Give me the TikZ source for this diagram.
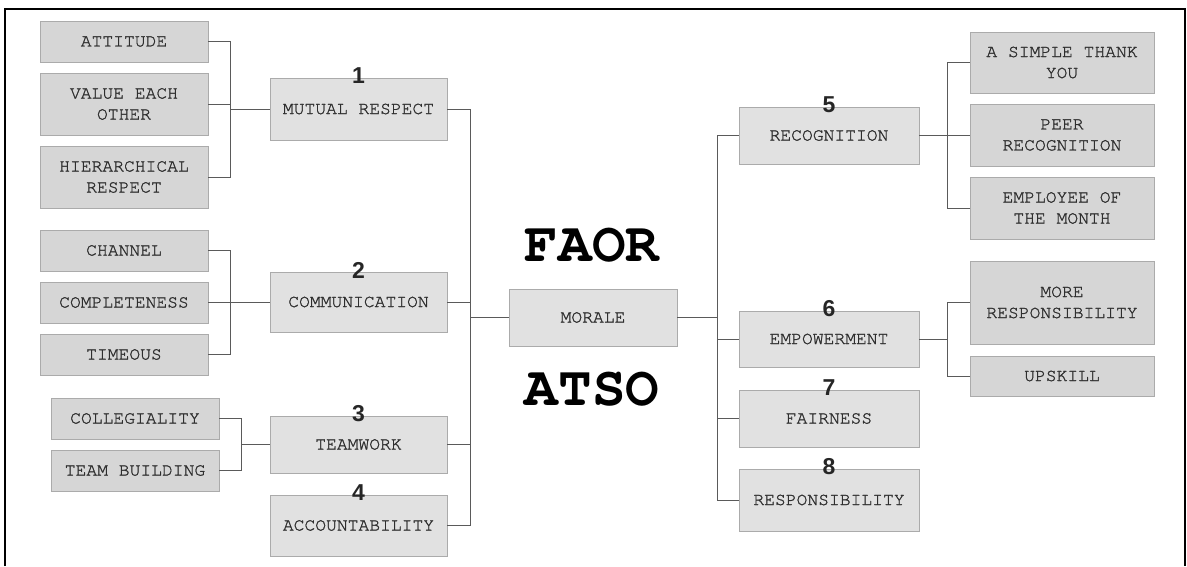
\documentclass[tikz,border=0pt]{standalone}
\usepackage{fontspec}
\newfontfamily\mrmono{texgyrecursor}[Extension=.otf,
  UprightFont=*-regular, BoldFont=*-bold,
  UprightFeatures={FakeBold=1.2}]
\newfontfamily\mrsans{Liberation Sans}
\definecolor{mrink}{HTML}{2E2E2E}
\definecolor{mrline}{HTML}{5A5A5A}
\definecolor{mrleaf}{HTML}{D6D6D6}
\definecolor{mrcore}{HTML}{E1E1E1}
\definecolor{mredge}{HTML}{ABABAB}
\tikzset{
  mrbox/.style={
    draw=mredge, fill=mrcore, line width=0.9pt, inner sep=0pt,
    align=center, text=mrink, font=\mrmono\fontsize{18}{21}\selectfont},
  mrleafbox/.style={mrbox, fill=mrleaf},
  mrlink/.style={draw=mrline, line width=1pt},
  mrnum/.style={font=\mrsans\bfseries\fontsize{23}{23}\selectfont,
    text=black!85, yshift=1.5pt},
  mrbig/.style={font=\mrmono\bfseries\fontsize{56}{56}\selectfont},
}

\begin{document}
\begin{tikzpicture}[x=1pt, y=-1pt]
\useasboundingbox (0,0) rectangle (1187,566);

% Open frame round the chart.
\draw[line width=2.2pt] (5.3,566) -- (5.3,8.7) -- (1185,8.7) -- (1185,566);

% Centre node and its two captions.
\node[mrbox, minimum width=168pt, minimum height=57pt] (morale)
  at (593, 317.5) {MORALE};
\node[mrbig] (faor) at (592, 245) {FAOR};
\node[mrbig] (atso) at (592, 389) {ATSO};

% Numbered factors, left and right of the centre.
\foreach \name/\num/\cx/\cy/\w/\h/\txt in {%
    mutual/1/358.5/109/177/62/{MUTUAL RESPECT},
    comm/2/358.5/302/177/60/{COMMUNICATION},
    team/3/358.5/444.5/177/57/{TEAMWORK},
    acc/4/358.5/525.5/177/61/{ACCOUNTABILITY},
    recog/5/829/135.5/180/57/{RECOGNITION},
    empow/6/829/339/180/56/{EMPOWERMENT},
    fair/7/829/418.5/180/57/{FAIRNESS},
    resp/8/829/500/180/62/{RESPONSIBILITY}} {
  \node[mrbox, minimum width=\w pt, minimum height=\h pt] (\name)
    at (\cx, \cy) {\txt};
  \node[mrnum] (num\num) at (\name.north) {\num};
}

% Sub-factors hanging off the numbered ones.
\foreach \name/\cx/\cy/\w/\h/\txt in {%
    att/124/41.5/168/41/{ATTITUDE},
    val/124/104/168/62/{VALUE EACH\\OTHER},
    hier/124/177/168/62/{HIERARCHICAL\\RESPECT},
    chan/124/250.5/168/41/{CHANNEL},
    compl/124/302.5/168/41/{COMPLETENESS},
    time/124/354.5/168/41/{TIMEOUS},
    coll/135/418.5/168/41/{COLLEGIALITY},
    tb/135/470.5/168/41/{TEAM BUILDING},
    thank/1062/62.5/184/61/{A SIMPLE THANK\\YOU},
    peer/1062/135/184/62/{PEER\\RECOGNITION},
    month/1062/208/184/62/{EMPLOYEE OF\\THE MONTH},
    more/1062/302.5/184/83/{MORE\\RESPONSIBILITY},
    up/1062/376/184/40/{UPSKILL}} {
  \node[mrleafbox, minimum width=\w pt, minimum height=\h pt] (\name)
    at (\cx, \cy) {\txt};
}

% Elbow connectors.
\foreach \leaf/\core in {att/mutual, val/mutual, hier/mutual,
    chan/comm, compl/comm, time/comm, coll/team, tb/team} {
  \draw[mrlink] (\leaf.east) -- ++(22,0) |- (\core.west);
}
\foreach \core in {mutual, comm, team, acc} {
  \draw[mrlink] (\core.east) -- ++(23,0) |- (morale.west);
}
\foreach \core in {recog, empow, fair, resp} {
  \draw[mrlink] (morale.east) -- ++(40,0) |- (\core.west);
}
\foreach \core/\leaf in {recog/thank, recog/peer, recog/month,
    empow/more, empow/up} {
  \draw[mrlink] (\core.east) -- ++(28,0) |- (\leaf.west);
}

\end{tikzpicture}
\end{document}
